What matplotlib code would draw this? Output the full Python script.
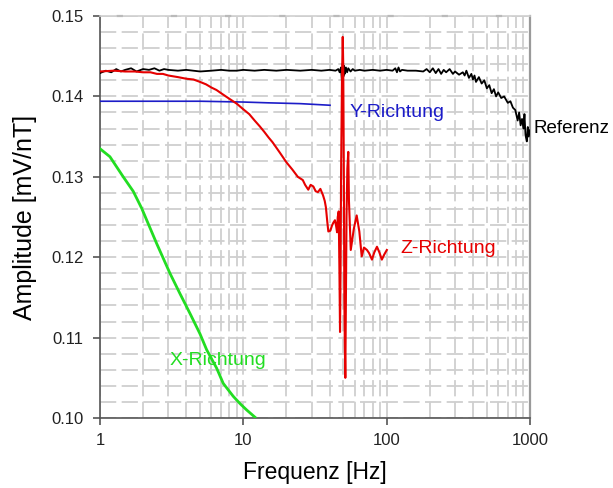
import numpy as np
import matplotlib.pyplot as plt
from matplotlib.ticker import FixedLocator, NullFormatter, FuncFormatter, LogLocator

plt.rcParams['font.family'] = ['Liberation Sans', 'DejaVu Sans']

# Referenz (schwarz)
f_ref = [1.0, 1.1, 1.2, 1.3, 1.4, 1.5, 1.65, 1.8, 2.0, 2.2, 2.4, 2.6, 2.8, 3.0,
         3.5, 4.0, 5.0, 6.0, 7.0, 8.0, 9.0, 10, 12, 14, 17, 20, 25, 30, 35, 40,
         44, 46, 47, 48, 48.8, 49.4, 50, 50.5, 51, 52, 53, 54, 56, 58, 60, 65, 70,
         80, 90, 100, 110, 115, 118, 121, 124, 128, 140, 160, 180, 190, 200, 210,
         220, 230, 240, 250, 260, 275, 290, 300, 320, 340, 350, 360, 375, 390,
         400, 410, 420, 440, 460, 480, 500, 520, 540, 560, 580, 600, 630, 660,
         700, 730, 760, 790, 820, 840, 860, 880, 900, 915, 930, 950, 965, 980, 1000]
a_ref = [0.1429, 0.1432, 0.1430, 0.1434, 0.1431, 0.1433, 0.1435, 0.1431, 0.1434,
         0.1433, 0.1435, 0.1432, 0.1434, 0.1433,
         0.1432, 0.1433, 0.1431, 0.1432, 0.1433, 0.1432, 0.1432, 0.1433, 0.1432,
         0.1433, 0.1432, 0.1433, 0.1432, 0.1433, 0.1432, 0.1433,
         0.1432, 0.1434, 0.1430, 0.1436, 0.1418, 0.1441, 0.1425, 0.1438, 0.1428,
         0.1436, 0.1430, 0.1435, 0.1431, 0.1434, 0.1432, 0.1433, 0.1432,
         0.1433, 0.1432, 0.1433, 0.1432, 0.1435, 0.1430, 0.1436, 0.1431, 0.1433,
         0.1432, 0.1432, 0.1431, 0.1434, 0.1430, 0.1435,
         0.1429, 0.1434, 0.1428, 0.1433, 0.1430, 0.1434, 0.1428, 0.1431, 0.1427,
         0.1430, 0.1426, 0.1432, 0.1423, 0.1428,
         0.1421, 0.1426, 0.1418, 0.1424, 0.1416, 0.1420, 0.1410, 0.1414, 0.1404,
         0.1409, 0.1400, 0.1405, 0.1398, 0.1400,
         0.1392, 0.1394, 0.1386, 0.1383, 0.1370, 0.1380, 0.1364, 0.1372, 0.1360,
         0.1378, 0.1352, 0.1344, 0.1362, 0.1350, 0.1358]

# Y-Richtung (blau)
f_y = [1.0, 2.0, 5.0, 10, 15, 25, 40.3]
a_y = [0.1394, 0.1394, 0.1394, 0.1393, 0.1392, 0.1391, 0.1389]

# Z-Richtung (rot)
f_z = [1.0, 1.25, 1.5, 1.75, 2.0, 2.25, 2.5, 2.75, 3.0, 3.5, 4.0, 4.5, 5.0,
       5.5, 6.0, 6.5, 7.0, 8.0, 9.0, 10, 11, 12, 13, 14, 15, 16, 18, 20, 22,
       24, 26, 27, 28.4, 29.5, 30.8, 32, 33.2, 34.5, 36, 37, 37.7, 38.5, 39.2,
       40.5, 41.5, 42.5, 43.6, 44.5, 45.1, 45.6, 46.3, 46.8, 47.3, 47.7, 48.1,
       48.8, 49.4, 49.8, 50.3, 50.7, 51.1, 51.5, 52.0, 52.5, 53.2, 54.0, 54.6,
       56.2, 59.0, 61.8, 64.5, 67.0, 69.5, 72.9, 75.5, 79.0, 82.0, 85.6, 89.0,
       92.6, 96.0, 100.3]
a_z = [0.1431, 0.1432, 0.1431, 0.1431, 0.1430, 0.1430, 0.1428, 0.1428, 0.1426,
       0.1424, 0.1422, 0.1421, 0.1418, 0.1415, 0.1411, 0.1408, 0.1404, 0.1397,
       0.1391, 0.1384, 0.1378, 0.1370, 0.1363, 0.1356, 0.1349, 0.1343, 0.1330,
       0.1318, 0.1309, 0.1300, 0.1296, 0.1290, 0.1284, 0.1290, 0.1288, 0.1282,
       0.1281, 0.1285, 0.1277, 0.1270, 0.1262, 0.1245, 0.1232, 0.1233, 0.1239,
       0.1243, 0.1246, 0.1238, 0.1231, 0.1250, 0.1257, 0.1190, 0.1107, 0.1180,
       0.1305, 0.1420, 0.1474, 0.1440, 0.1300, 0.1150, 0.1089, 0.1050, 0.1150,
       0.1250, 0.1310, 0.1331, 0.1270, 0.1209, 0.1235, 0.1252, 0.1232, 0.1201,
       0.1212, 0.1209, 0.1205, 0.1197, 0.1206, 0.1213, 0.1206, 0.1197, 0.1203,
       0.1209]

# X-Richtung (grün)
f_x = [1.0, 1.174, 1.454, 1.707, 1.954, 2.488, 3.08, 3.61, 4.25, 4.98, 5.55,
       6.52, 7.25, 8.51, 9.48, 10.56, 12.07]
a_x = [0.1335, 0.1325, 0.1300, 0.1282, 0.1261, 0.1217, 0.1180, 0.1155, 0.1130,
       0.1105, 0.1085, 0.1062, 0.1043, 0.1027, 0.1018, 0.1010, 0.1001]

fig = plt.figure(figsize=(6.13, 4.88), dpi=100)
ax = fig.add_axes([0.163, 0.1434, 0.7016, 0.8238])

ax.plot(f_ref, a_ref, color='black', lw=1.3, zorder=3)
ax.plot(f_y, a_y, color='#1c1cc8', lw=1.2, zorder=3)
ax.plot(f_z, a_z, color='#e60000', lw=1.5, zorder=4)
ax.plot(f_x, a_x, color='#22dd22', lw=2.0, zorder=3, solid_joinstyle='round')

ax.set_xscale('log')
ax.set_xlim(1, 1000)
ax.set_ylim(0.10, 0.15)

ax.xaxis.set_major_locator(FixedLocator([1, 10, 100, 1000]))
ax.xaxis.set_major_formatter(FuncFormatter(lambda v, p: '%g' % v))
ax.xaxis.set_minor_locator(LogLocator(base=10, subs=np.arange(2, 10)))
ax.xaxis.set_minor_formatter(NullFormatter())
ax.yaxis.set_major_locator(FixedLocator([0.10, 0.11, 0.12, 0.13, 0.14, 0.15]))
ax.yaxis.set_major_formatter(FuncFormatter(lambda v, p: '%.2f' % v))
ax.yaxis.set_minor_locator(FixedLocator(np.arange(0.10, 0.1501, 0.002)))

grid_kw = dict(color='#cfcfcf', lw=1.3, linestyle=(0, (9, 3)))
ax.grid(True, which='both', axis='both', **grid_kw)
ax.set_axisbelow(True)

ax.tick_params(axis='both', which='major', direction='out', length=5,
               width=1.2, color='#555555', labelsize=12, labelcolor='#222222')
ax.tick_params(axis='both', which='minor', length=0)
ax.tick_params(axis='x', pad=6)
ax.tick_params(axis='y', pad=7)

for s in ['left', 'bottom']:
    ax.spines[s].set_color('#555555')
    ax.spines[s].set_linewidth(1.2)
ax.spines['right'].set_color('#9a9a9a')
ax.spines['right'].set_linewidth(1.6)
ax.spines['top'].set_color('#cfcfcf')
ax.spines['top'].set_linewidth(1.2)
ax.axhline(0.15, color='#555555', lw=1.5, linestyle=(18, (3, 23)), clip_on=False)

ax.set_xlabel('Frequenz [Hz]', fontsize=16.5, labelpad=9)
ax.set_ylabel('Amplitude [mV/nT]', fontsize=18, labelpad=10)

ax.text(55.5, 0.13800, 'Y-Richtung', color='#1c1cc8', fontsize=14, va='center')
ax.text(124, 0.12114, 'Z-Richtung', color='#e60000', fontsize=14, va='center')
ax.text(3.08, 0.10721, 'X-Richtung', color='#22dd22', fontsize=14, va='center')
ax.text(1051, 0.13607, 'Referenz', color='black', fontsize=13.5, va='center',
        clip_on=False)

fig.savefig('out.png', dpi=100)
